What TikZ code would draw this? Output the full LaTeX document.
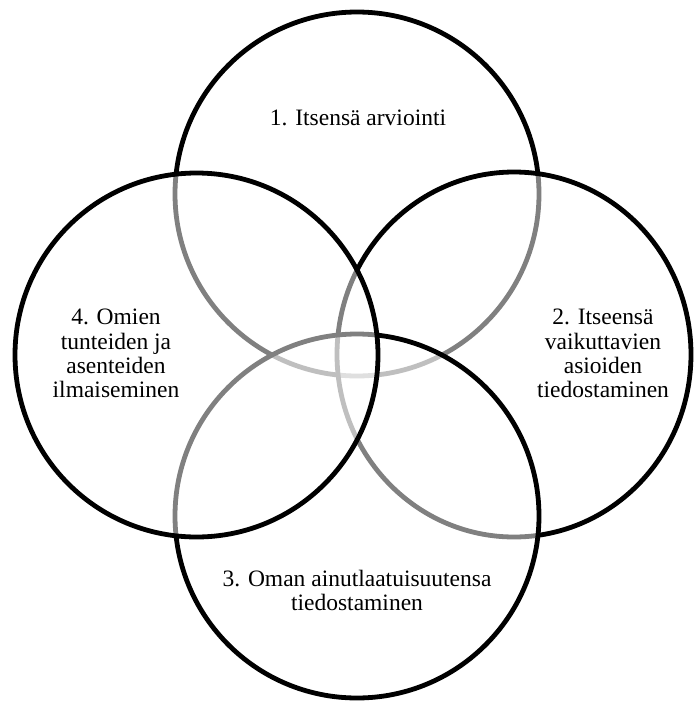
\documentclass[tikz,border=0pt]{standalone}
\usepackage{fontspec}
\setmainfont{Liberation Serif}
\usepackage{tikz}
\usetikzlibrary{shapes.geometric}

\begin{document}
\begin{tikzpicture}[x=1pt,y=-1pt,
    ring/.style={ellipse, draw=black, line width=4.8pt, fill=white, fill opacity=0.5, draw opacity=1, inner sep=0pt},
    lbl/.style={align=center, inner sep=0pt, font=\fontsize{23.5}{24.3}\selectfont}]
    \useasboundingbox (0,0) rectangle (694,702);

    %% the four areas, drawn in this order
    \node[ring, minimum width=364pt, minimum height=364pt] (arvio) at (357,194) {};
    \node[ring, minimum width=354pt, minimum height=365pt] (vaikut) at (514,354.5) {};
    \node[ring, minimum width=364pt, minimum height=364pt] (ainut) at (357,516) {};
    \node[ring, minimum width=363pt, minimum height=364pt] (tunteet) at (196.5,355) {};

    %% labels
    \node[lbl, anchor=base] (arviolbl) at (358,125) {1. Itsensä arviointi};
    \node[lbl] (vaikutlbl) at (603,353.5) {2. Itseensä\\vaikuttavien\\asioiden\\tiedostaminen};
    \node[lbl] (ainutlbl) at (357,590.5) {3. Oman ainutlaatuisuutensa\\tiedostaminen};
    \node[lbl] (tunteetlbl) at (116,353.5) {4. Omien\\tunteiden ja\\asenteiden\\ilmaiseminen};
\end{tikzpicture}
\end{document}
